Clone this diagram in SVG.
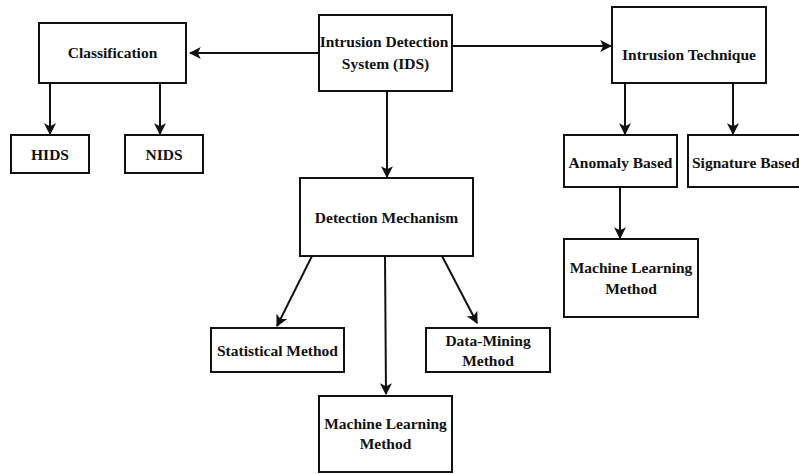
<svg xmlns="http://www.w3.org/2000/svg" width="799" height="474" viewBox="0 0 799 474">
<style>
.box{fill:#fff;stroke:#111;stroke-width:2}
.t{font-family:"Liberation Serif","Times New Roman",serif;font-weight:bold;font-size:15.5px;fill:#111;text-anchor:middle}
.c{stroke:#111;stroke-width:2;fill:none;marker-end:url(#ah)}
</style>
<defs>
<marker id="ah" viewBox="0 0 10 10" refX="9" refY="5" markerWidth="6" markerHeight="6" markerUnits="strokeWidth" orient="auto">
<path d="M0,0 L10,5 L0,10 L2.5,5 Z" fill="#111"/>
</marker>
</defs>
<rect width="799" height="474" fill="#fff"/>
<g id="connectors">
<line class="c" x1="319" y1="53" x2="190" y2="53"/>
<line class="c" x1="452" y1="46" x2="611" y2="46"/>
<line class="c" x1="387" y1="91" x2="387" y2="177"/>
<line class="c" x1="50" y1="83" x2="50" y2="134"/>
<line class="c" x1="160" y1="83" x2="160" y2="134"/>
<line class="c" x1="625" y1="83" x2="625" y2="134"/>
<line class="c" x1="733" y1="83" x2="733" y2="134"/>
<line class="c" x1="620" y1="187" x2="620" y2="238"/>
<line class="c" x1="312" y1="256" x2="277" y2="326"/>
<line class="c" x1="385" y1="256" x2="386" y2="394"/>
<line class="c" x1="442" y1="256" x2="477" y2="323"/>
</g>
<g id="ids"><rect class="box" x="319" y="15" width="133" height="76"/><text class="t" x="384" y="47">Intrusion Detection</text><text class="t" x="385.5" y="69">System (IDS)</text></g>
<g id="classification"><rect class="box" x="39" y="23" width="147" height="60"/><text class="t" x="112.5" y="58">Classification</text></g>
<g id="hids"><rect class="box" x="11" y="135" width="78" height="38"/><text class="t" x="50" y="160">HIDS</text></g>
<g id="nids"><rect class="box" x="125" y="135" width="78" height="38"/><text class="t" x="164" y="160">NIDS</text></g>
<g id="technique"><rect class="box" x="612" y="7" width="154" height="76"/><text class="t" x="689" y="60">Intrusion Technique</text></g>
<g id="anomaly"><rect class="box" x="564" y="135" width="113" height="52"/><text class="t" x="620.5" y="168">Anomaly Based</text></g>
<g id="signature"><rect class="box" x="688" y="135" width="120" height="52"/><text class="t" x="692" y="168" style="text-anchor:start">Signature Based</text></g>
<g id="ml-right"><rect class="box" x="564" y="239" width="134" height="78"/><text class="t" x="631" y="273">Machine Learning</text><text class="t" x="631" y="294">Method</text></g>
<g id="detection"><rect class="box" x="300" y="178" width="173" height="78"/><text class="t" x="386.5" y="223">Detection Mechanism</text></g>
<g id="statistical"><rect class="box" x="211" y="328" width="133" height="44"/><text class="t" x="277.5" y="356">Statistical Method</text></g>
<g id="datamining"><rect class="box" x="426" y="328" width="124" height="44"/><text class="t" x="488" y="346">Data-Mining</text><text class="t" x="488" y="366">Method</text></g>
<g id="ml-bottom"><rect class="box" x="319" y="396" width="133" height="76"/><text class="t" x="385.5" y="429">Machine Learning</text><text class="t" x="385.5" y="449">Method</text></g>
</svg>
